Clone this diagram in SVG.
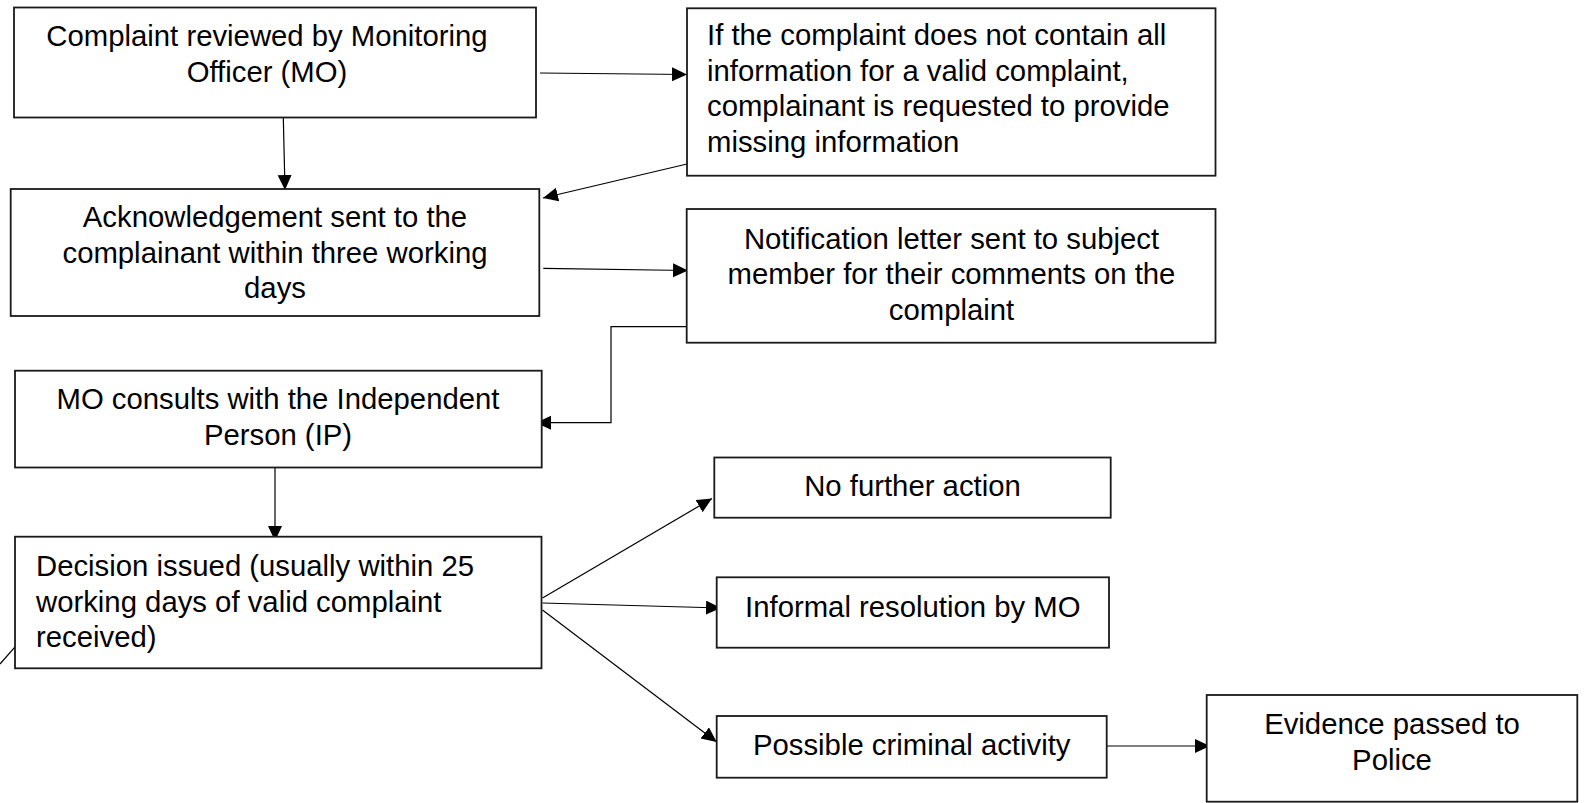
<svg xmlns="http://www.w3.org/2000/svg" width="1584" height="803" viewBox="0 0 1584 803">
<style>
.box{fill:#fff;stroke:#1a1a1a;stroke-width:1.8}
.t{font-family:"Liberation Sans",Arial,sans-serif;font-size:29.3px;fill:#000}
.c{text-anchor:middle}
.ln{fill:none;stroke:#000;stroke-width:1.2}
</style>
<defs>
<marker id="ah" markerUnits="userSpaceOnUse" markerWidth="16" markerHeight="15" refX="15" refY="7" orient="auto">
<path d="M0,0 L15,7 L0,14 z" fill="#000"/>
</marker>
</defs>
<rect width="1584" height="803" fill="#fff"/>
<g id="connectors">
<line class="ln" x1="540" y1="73" x2="687" y2="74.5" marker-end="url(#ah)"/>
<line class="ln" x1="283.3" y1="117.5" x2="285" y2="190" marker-end="url(#ah)"/>
<line class="ln" x1="687" y1="164" x2="543" y2="198" marker-end="url(#ah)"/>
<line class="ln" x1="543.3" y1="268.3" x2="688" y2="270.5" marker-end="url(#ah)"/>
<path class="ln" d="M686.7,326.7 H611 V422.7 H536" marker-end="url(#ah)"/>
<line class="ln" x1="275" y1="467.5" x2="275" y2="541" marker-end="url(#ah)"/>
<line class="ln" x1="542.5" y1="598" x2="712" y2="498.5" marker-end="url(#ah)"/>
<line class="ln" x1="542.5" y1="603" x2="721" y2="608" marker-end="url(#ah)"/>
<line class="ln" x1="542.5" y1="610" x2="716.7" y2="742" marker-end="url(#ah)"/>
<line class="ln" x1="1106.7" y1="746" x2="1210" y2="746" marker-end="url(#ah)"/>
<line class="ln" x1="0" y1="664" x2="19" y2="642.3"/>
</g>
<g id="n1">
<rect class="box" x="14" y="7.5" width="522" height="110"/>
<text class="t c" x="267" y="46">Complaint reviewed by Monitoring</text>
<text class="t c" x="267" y="81.5">Officer (MO)</text>
</g>
<g id="n2">
<rect class="box" x="687" y="8.3" width="528.5" height="167.4"/>
<text class="t" x="707" y="45">If the complaint does not contain all</text>
<text class="t" x="707" y="80.5">information for a valid complaint,</text>
<text class="t" x="707" y="116">complainant is requested to provide</text>
<text class="t" x="707" y="151.5">missing information</text>
</g>
<g id="n3">
<rect class="box" x="10.7" y="189" width="528.6" height="127"/>
<text class="t c" x="275" y="227">Acknowledgement sent to the</text>
<text class="t c" x="275" y="262.5">complainant within three working</text>
<text class="t c" x="275" y="298">days</text>
</g>
<g id="n4">
<rect class="box" x="686.7" y="209" width="528.8" height="133.7"/>
<text class="t c" x="951.5" y="248.5">Notification letter sent to subject</text>
<text class="t c" x="951.5" y="284">member for their comments on the</text>
<text class="t c" x="951.5" y="319.5">complaint</text>
</g>
<g id="n5">
<rect class="box" x="15" y="370.7" width="526.7" height="96.8"/>
<text class="t c" x="278" y="409.3">MO consults with the Independent</text>
<text class="t c" x="278" y="445">Person (IP)</text>
</g>
<g id="n6">
<rect class="box" x="15" y="536.7" width="526.5" height="131.6"/>
<text class="t" x="36" y="576">Decision issued (usually within 25</text>
<text class="t" x="36" y="611.5">working days of valid complaint</text>
<text class="t" x="36" y="647">received)</text>
</g>
<g id="n7">
<rect class="box" x="714.3" y="457.5" width="396.4" height="60.2"/>
<text class="t c" x="912.5" y="495.5">No further action</text>
</g>
<g id="n8">
<rect class="box" x="716.7" y="577.3" width="392.3" height="70.4"/>
<text class="t c" x="912.8" y="616.5">Informal resolution by MO</text>
</g>
<g id="n9">
<rect class="box" x="716.7" y="716" width="390" height="61.7"/>
<text class="t c" x="911.7" y="754.5">Possible criminal activity</text>
</g>
<g id="n10">
<rect class="box" x="1206.7" y="695" width="370.6" height="106.7"/>
<text class="t c" x="1392" y="734">Evidence passed to</text>
<text class="t c" x="1392" y="769.5">Police</text>
</g>
</svg>
